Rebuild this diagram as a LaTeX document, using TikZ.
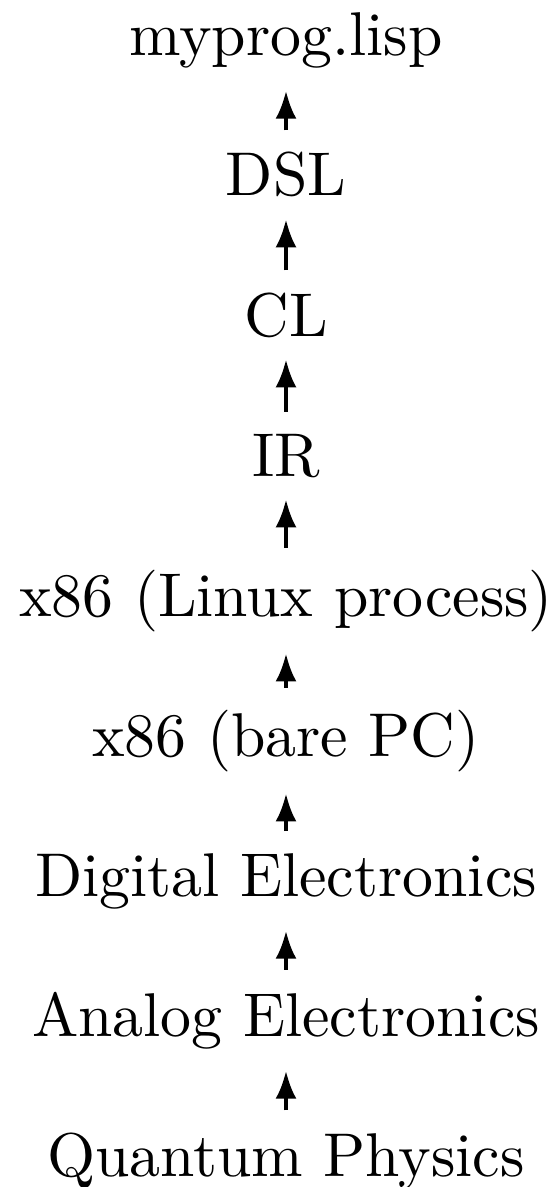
\documentclass[tikz,border=0pt]{standalone}
\usetikzlibrary{arrows.meta}
\newcommand{\bigtext}[1]{\scalebox{3.09}{#1}}
\begin{document}
\begin{tikzpicture}[x=0.5pt,y=-0.5pt,
  layer/.style={inner sep=11pt,outer sep=0pt,anchor=base,font=\fontsize{10}{12}\selectfont},
  up/.style={-{Latex[length=14pt,width=10.5pt]},line width=2pt}]
\useasboundingbox (0,0) rectangle (560,1187);
\node[layer] (qp) at (286,1176) {\bigtext{Quantum Physics}};
\node[layer] (ae) at (286,1036) {\bigtext{Analog Electronics}};
\node[layer] (de) at (286,896) {\bigtext{Digital Electronics}};
\node[layer] (pc) at (286,756) {\bigtext{x86 (bare PC)}};
\node[layer] (lx) at (286,616) {\bigtext{x86 (Linux process)}};
\node[layer] (ir) at (286,476) {\bigtext{IR}};
\node[layer] (cl) at (286,336) {\bigtext{CL}};
\node[layer] (dsl) at (286,196) {\bigtext{DSL}};
\node[layer] (mp) at (286,56) {\bigtext{myprog.lisp}};
\draw[up] (qp) -- (ae);
\draw[up] (ae) -- (de);
\draw[up] (de) -- (pc);
\draw[up] (pc) -- (lx);
\draw[up] (lx) -- (ir);
\draw[up] (ir) -- (cl);
\draw[up] (cl) -- (dsl);
\draw[up] (dsl) -- (mp);
\end{tikzpicture}
\end{document}
